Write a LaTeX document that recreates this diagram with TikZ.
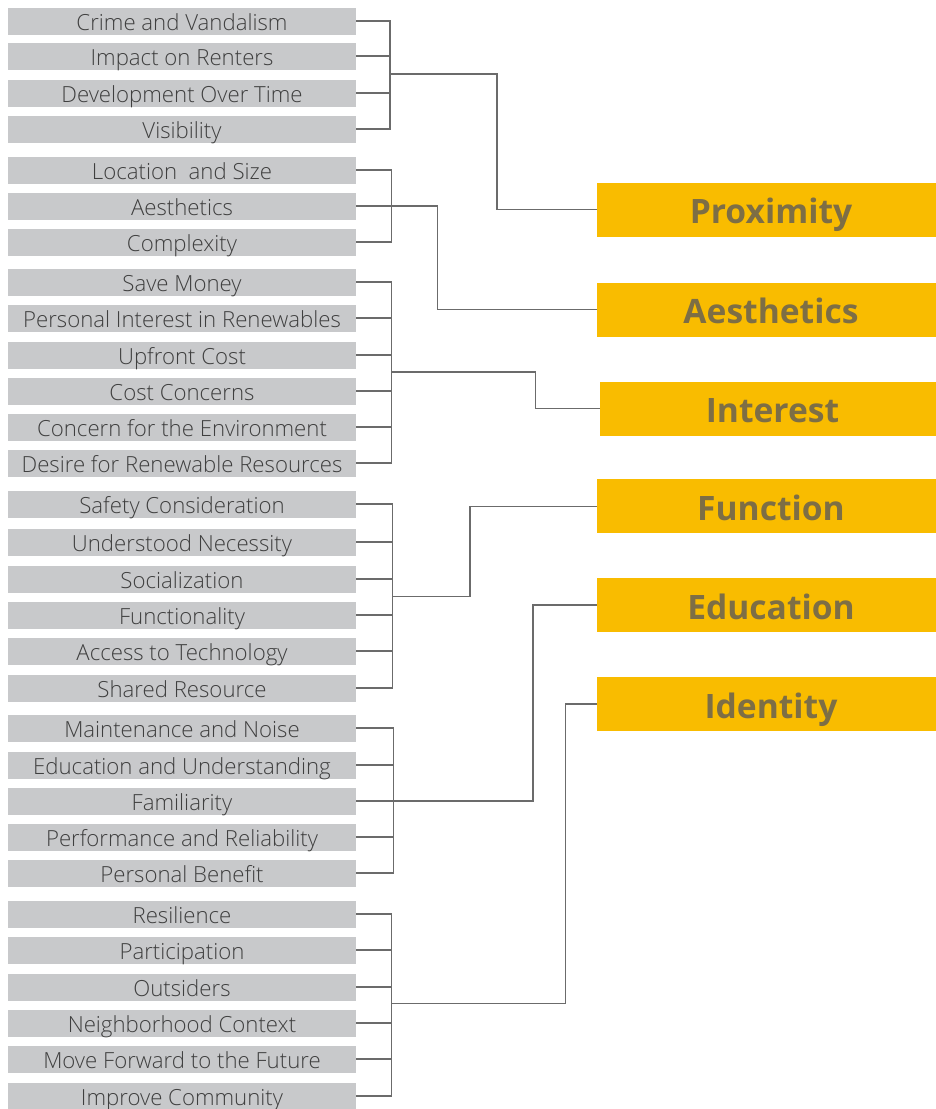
\documentclass[tikz,border=0pt]{standalone}
\usepackage{fontspec}
\setmainfont{Open Sans}
\newfontfamily\itemfont{Open Sans Light}
\definecolor{itembg}{HTML}{C8C9CB}
\definecolor{itemtx}{HTML}{3F3F3F}
\definecolor{wirecol}{HTML}{6B6B6B}
\definecolor{themebg}{HTML}{F9BC00}
\definecolor{themetx}{HTML}{7D6E45}
\begin{document}
\begin{tikzpicture}[x=1pt,y=-1pt,
  item/.style={rectangle, fill=itembg, minimum width=348pt, minimum height=27pt,
    inner sep=0pt, text height=19.5pt, text depth=0pt, text=itemtx,
    font=\itemfont\fontsize{22.2}{25}\selectfont},
  theme/.style={rectangle, fill=themebg, minimum height=54pt, inner sep=0pt,
    text height=28pt, text depth=0pt, text=themetx,
    font=\bfseries\fontsize{33.6}{37}\selectfont},
  wire/.style={draw=wirecol, line width=1.5pt}]
\useasboundingbox (0,0) rectangle (936,1109);

% factor items
\foreach \i/\y/\t in {
  1/21/Crime and Vandalism,
  2/56/Impact on Renters,
  3/93/Development Over Time,
  4/129/Visibility,
  5/170/Location~ and Size,
  6/206/Aesthetics,
  7/242/Complexity,
  8/282/Save Money,
  9/318/Personal Interest in Renewables,
  10/355/Upfront Cost,
  11/391/Cost Concerns,
  12/427/Concern for the Environment,
  13/463/Desire for Renewable Resources,
  14/504/Safety Consideration,
  15/542/Understood Necessity,
  16/579/Socialization,
  17/615/Functionality,
  18/651/Access to Technology,
  19/688/Shared Resource,
  20/728/Maintenance and Noise,
  21/765/Education and Understanding,
  22/801/Familiarity,
  23/837/Performance and Reliability,
  24/873/Personal Benefit,
  25/914/Resilience,
  26/950/Participation,
  27/987/Outsiders,
  28/1023/Neighborhood Context,
  29/1059/Move Forward to the Future,
  30/1096/Improve Community}
  \node[item] (l\i) at (182,\y) {\t};

% theme boxes (run past the right edge)
\node[theme, minimum width=348pt] (proximity)  at (771,209.7) {Proximity};
\node[theme, minimum width=348pt] (aesthetics) at (771,309.6) {Aesthetics};
\node[theme, minimum width=345pt] (interest)   at (772.5,408.7) {Interest};
\node[theme, minimum width=348pt] (function)   at (771,506.3) {Function};
\node[theme, minimum width=348pt] (education)  at (771,605) {Education};
\node[theme, minimum width=348pt] (identity)   at (771,704) {Identity};

% bracket columns
\coordinate (b1) at (390,0);
\coordinate (b2) at (391.5,0);
\coordinate (b3) at (391.7,0);
\coordinate (b4) at (392.7,0);
\coordinate (b5) at (393.7,0);
\coordinate (b6) at (391.7,0);

% brackets: ticks and spines
\foreach \g/\a/\b in {1/1/4, 2/5/7, 3/8/13, 4/14/19, 5/20/24, 6/25/30} {
  \foreach \i in {\a,...,\b}
    \draw[wire] (l\i.east) -- (l\i.east -| b\g);
  \draw[wire, line cap=rect] (l\a.east -| b\g) -- (l\b.east -| b\g);
}

% group joints
\coordinate (j1) at (390,74);
\coordinate (j2) at (l6.east -| b2);
\coordinate (j3) at (391.7,372);
\coordinate (j4) at (392.7,596.3);
\coordinate (j5) at (l22.east -| b5);
\coordinate (j6) at (391.7,1003.7);

% links to themes
\draw[wire] (j1) -| (497,200) |- (proximity.west);
\draw[wire] (j2) -| (437.7,300) |- (aesthetics.west);
\draw[wire] (j3) -| (535.7,390) |- (interest.west);
\draw[wire] (j4) -| (470,550) |- (function.west);
\draw[wire] (j5) -| (533,700) |- (education.west);
\draw[wire] (j6) -| (565.3,800) |- (identity.west);
\end{tikzpicture}
\end{document}
